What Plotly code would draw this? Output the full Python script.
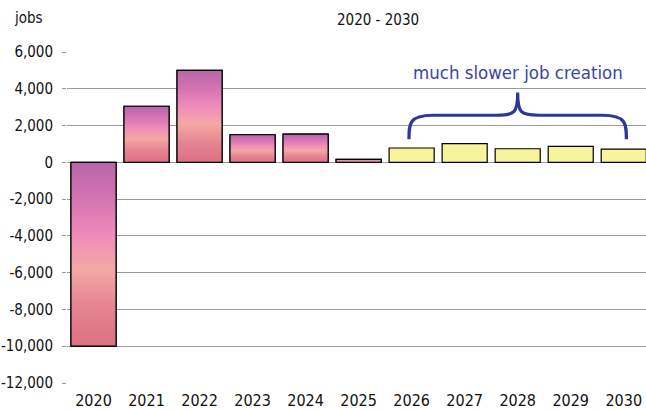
import plotly.graph_objects as go

years = ["2020", "2021", "2022", "2023", "2024", "2025", "2026", "2027", "2028", "2029", "2030"]
jobs = [-10000, 3050, 5000, 1500, 1530, 160, 780, 1020, 740, 870, 720]
projected_from = "2026"
y_ticks = [-12000, -10000, -8000, -6000, -4000, -2000, 0, 2000, 4000, 6000]
y_tick_labels = [f"{v:,}" for v in y_ticks]

FONT = "DejaVu Sans Condensed, Liberation Sans Narrow, Liberation Sans, sans-serif"
PINK = "#e585b0"
YELLOW = "#f7f49c"
BLUE = "#2f3896"
BAR_W = 0.85
GRAD = [[0.0, "#dc7183"], [0.2, "#e48391"], [0.42, "#f4a8a4"], [0.6, "#f08cba"],
        [0.82, "#d172b2"], [1.0, "#b966a8"]]

idx = list(range(len(years)))
split = years.index(projected_from)
colors = [PINK if i < split else YELLOW for i in idx]

fig = go.Figure()
fig.add_trace(go.Bar(
    x=idx, y=jobs, width=BAR_W,
    marker=dict(color=colors, line=dict(color="black", width=1.2)),
    hoverinfo="skip", showlegend=False,
))

# gradient overlays for the actual-years bars (geometry derived from the data)
h = BAR_W / 2
for i in idx[:split]:
    v = jobs[i]
    fig.add_trace(go.Scatter(
        x=[i - h, i + h, i + h, i - h, i - h],
        y=[0, 0, v, v, 0],
        mode="lines", fill="toself",
        fillgradient=dict(type="vertical", colorscale=GRAD),
        line=dict(color="black", width=1.2),
        hoverinfo="skip", showlegend=False,
    ))

x_range = [-0.5, 10.42]
L, R, T, B = 67, 0, 52, 27
W, H = 646, 410
pw, ph = W - L - R, H - T - B


def px(x):
    return (x - L) / pw


def py(y):
    return (H - B - y) / ph


fig.update_layout(
    width=W, height=H,
    margin=dict(l=L, r=R, t=T, b=B, autoexpand=False),
    paper_bgcolor="white", plot_bgcolor="white",
    font=dict(family=FONT, size=15, color="#111"),
    bargap=0.15,
    xaxis=dict(
        range=x_range, tickmode="array", tickvals=idx, ticktext=years,
        showgrid=False, zeroline=False, showline=False, ticks="",
        ticklabelstandoff=6,
        tickfont=dict(size=16, color="#111"), automargin=False,
    ),
    xaxis2=dict(
        overlaying="x", anchor="free", position=2 / 3, range=x_range,
        tickmode="array", tickvals=[i - 0.5 for i in idx] + [10.5],
        ticks="outside", ticklen=4, tickcolor="#555", tickwidth=1,
        showticklabels=False, showgrid=False, zeroline=False,
        showline=True, linecolor="#555", linewidth=1.3, automargin=False,
    ),
    yaxis=dict(
        range=[-12000, 6000], tickmode="array", tickvals=y_ticks,
        ticktext=y_tick_labels,
        showgrid=True, gridcolor="#9a9a9a", gridwidth=1.4,
        zeroline=False, showline=False, ticks="outside", ticklen=4,
        ticklabelstandoff=6,
        tickcolor="#9a9a9a", tickfont=dict(size=15, color="#111"), automargin=False,
    ),
    shapes=[dict(
        type="path", xref="x", yref="y",
        path="M 5.95 1250 C 5.95 2100, 5.95 2560, 6.4 2560 L 7.6 2560 "
             "C 7.95 2560, 8.0 2700, 8.0 3800 "
             "C 8.0 2700, 8.05 2560, 8.4 2560 L 9.6 2560 "
             "C 10.05 2560, 10.05 2100, 10.05 1250",
        line=dict(color=BLUE, width=3.2),
    )],
    annotations=[
        dict(text="much slower job creation", x=8.0, y=4900, xref="x", yref="y",
             showarrow=False, font=dict(size=18.5, color="#3a47a0", family=FONT)),
        dict(text="jobs", x=px(28), y=py(18), xref="paper", yref="paper",
             xanchor="center", yanchor="middle",
             showarrow=False, font=dict(size=15, color="#111")),
        dict(text="2020 - 2030", x=px(378), y=py(20), xref="paper", yref="paper",
             xanchor="center", yanchor="middle",
             showarrow=False, font=dict(size=15, color="#111")),
    ],
)

fig.write_html("out.html", config={"displayModeBar": False},
               post_script="document.body.style.margin='0';")
